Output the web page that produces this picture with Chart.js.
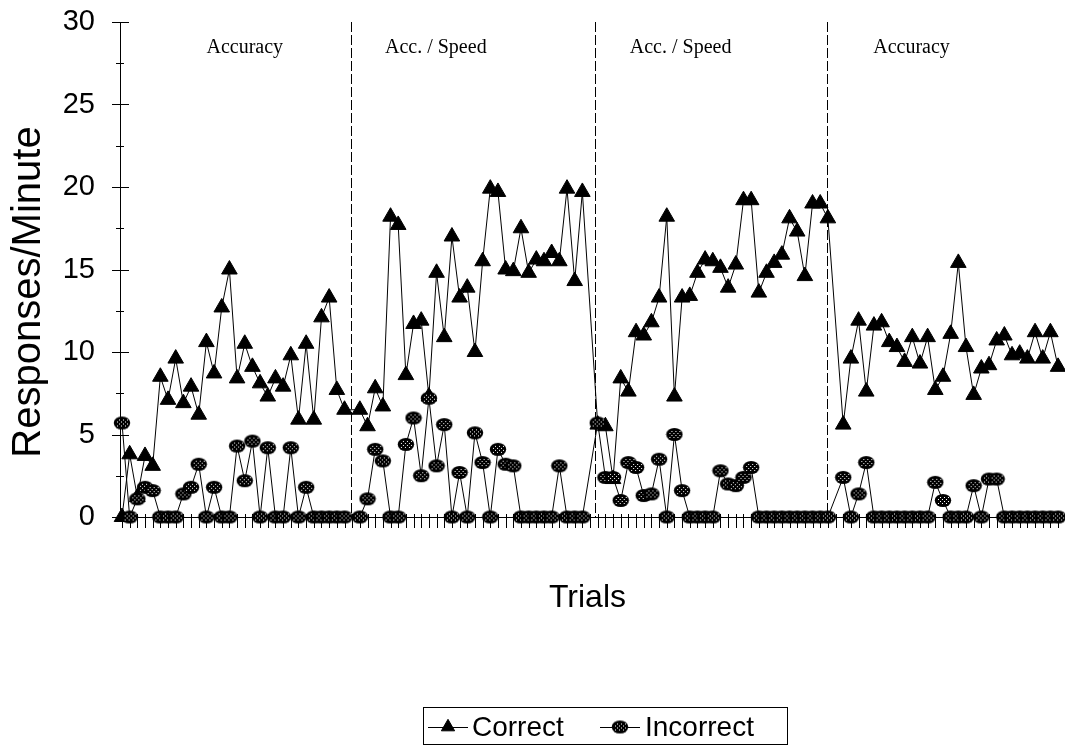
<!DOCTYPE html>
<html>
<head>
<meta charset="utf-8">
<script src="https://cdn.jsdelivr.net/npm/chart.js@4.4.1/dist/chart.umd.min.js"></script>
<style>
  html, body { margin: 0; padding: 0; background: #fff; }
  canvas { display: block; }
</style>
</head>
<body>
<canvas id="chart" width="1065" height="745"></canvas>
<script>
// responses per minute, one array per phase
const phaseNames = ['Accuracy', 'Acc. / Speed', 'Acc. / Speed', 'Accuracy'];
const phaseStarts = [0, 31, 62, 94];      // trial slot where each phase begins
const phaseBreaks = [29.8, 61.7, 91.9];   // where the phase change lines sit

const correct1 = [0, 3.8, 1.2, 3.7, 3.1, 8.5, 7.1, 9.6, 6.9, 7.9, 6.2, 10.6, 8.7, 12.7, 15.0, 8.4, 10.5, 9.1, 8.1, 7.3, 8.4, 7.9, 9.8, 5.9, 10.5, 5.9, 12.1, 13.3, 7.7, 6.5];
const incorrect1 = [5.7, 0, 1.1, 1.8, 1.6, 0, 0, 0, 1.4, 1.8, 3.2, 0, 1.8, 0, 0, 4.3, 2.2, 4.6, 0, 4.2, 0, 0, 4.2, 0, 1.8, 0, 0, 0, 0, 0];

const correct2 = [6.5, 5.5, 7.8, 6.7, 18.2, 17.7, 8.6, 11.7, 11.9, 7.3, 14.8, 10.9, 17.0, 13.3, 13.9, 10.0, 15.5, 19.9, 19.7, 15.0, 14.9, 17.5, 14.8, 15.6, 15.5, 16.0, 15.5, 19.9, 14.3, 19.7];
const incorrect2 = [0, 1.1, 4.1, 3.4, 0, 0, 4.4, 6.0, 2.5, 7.2, 3.1, 5.6, 0, 2.7, 0, 5.1, 3.3, 0, 4.1, 3.2, 3.1, 0, 0, 0, 0, 0, 3.1, 0, 0, 0];

const correct3 = [5.6, 5.5, 2.3, 8.4, 7.6, 11.2, 11.0, 11.8, 13.3, 18.2, 7.3, 13.3, 13.4, 14.8, 15.6, 15.5, 15.1, 13.9, 15.3, 19.2, 19.2, 13.6, 14.8, 15.4, 15.9, 18.1, 17.3, 14.6, 19.0, 19.0, 18.1];
const incorrect3 = [5.7, 2.4, 2.4, 1.0, 3.3, 3.0, 1.3, 1.4, 3.5, 0, 5.0, 1.6, 0, 0, 0, 0, 2.8, 2.0, 1.9, 2.4, 3.0, 0, 0, 0, 0, 0, 0, 0, 0, 0, 0];

const correct4 = [5.6, 9.6, 11.9, 7.6, 11.6, 11.8, 10.6, 10.3, 9.4, 10.9, 9.3, 10.9, 7.7, 8.5, 11.1, 15.4, 10.3, 7.4, 9.0, 9.2, 10.7, 11.0, 9.8, 9.9, 9.6, 11.2, 9.6, 11.2, 9.1];
const incorrect4 = [2.4, 0, 1.4, 3.3, 0, 0, 0, 0, 0, 0, 0, 0, 2.1, 1.0, 0, 0, 0, 1.9, 0, 2.3, 2.3, 0, 0, 0, 0, 0, 0, 0, 0];

const yTicks = [0, 5, 10, 15, 20, 25, 30];

function toPoints(phases) {
  const out = [];
  phases.forEach((vals, p) => vals.forEach((v, j) => out.push({ x: phaseStarts[p] + j, y: v })));
  return out;
}

// crosshatched ellipse marker for the incorrect series
function hatchMarker() {
  const c = document.createElement('canvas');
  c.width = 18; c.height = 15;
  const g = c.getContext('2d');
  g.beginPath();
  g.ellipse(9, 7.5, 8.2, 6.6, 0, 0, Math.PI * 2);
  g.fillStyle = '#000';
  g.fill();
  g.save();
  g.clip();
  g.fillStyle = '#fff';
  for (let y = 3; y < 12; y++) {
    for (let x = 3; x < 15; x++) {
      const a = (x + y) % 4, b = (x - y + 40) % 4;
      if (a === 2 && (b === 1 || b === 2)) g.fillRect(x, y, 1, 1);
      if (b === 2 && a === 1) g.fillRect(x, y, 1, 1);
    }
  }
  g.restore();
  return c;
}
const marker = hatchMarker();

const SANS = "'Liberation Sans', Arial, sans-serif";
const SERIF = "'Liberation Serif', 'Times New Roman', serif";

const decor = {
  id: 'decor',
  beforeDatasetsDraw(chart) {
    const { ctx, chartArea: a, scales: { x, y } } = chart;
    ctx.save();
    ctx.strokeStyle = '#000';
    ctx.lineWidth = 1;
    // phase change lines
    ctx.setLineDash([10, 3]);
    phaseBreaks.forEach(v => {
      const px = Math.round(x.getPixelForValue(v)) + 0.5;
      ctx.beginPath();
      ctx.moveTo(px, a.top);
      ctx.lineTo(px, a.bottom);
      ctx.stroke();
    });
    ctx.setLineDash([]);
    // y ticks crossing the axis, minor every 2.5
    for (let v = 0; v <= 30; v += 2.5) {
      const py = Math.round(y.getPixelForValue(v)) + 0.5;
      const major = v % 5 === 0;
      ctx.beginPath();
      ctx.moveTo(a.left - (major ? 8 : 4), py);
      ctx.lineTo(a.left + (major ? 9 : 4), py);
      ctx.stroke();
    }
    // x ticks, one per trial slot
    for (let i = 0; i <= 122; i++) {
      const px = Math.round(x.getPixelForValue(i)) + 0.5;
      ctx.beginPath();
      ctx.moveTo(px, a.bottom - 3);
      ctx.lineTo(px, a.bottom + 11);
      ctx.stroke();
    }
    // phase names
    ctx.fillStyle = '#000';
    ctx.font = '20px ' + SERIF;
    ctx.textBaseline = 'middle';
    ctx.textAlign = 'center';
    const labelAt = [16.0, 40.9, 72.8, 102.9];
    phaseNames.forEach((name, p) => {
      ctx.fillText(name, x.getPixelForValue(labelAt[p]), 48);
    });
    // y axis title
    ctx.font = '40px ' + SANS;
    ctx.translate(29, 292);
    ctx.rotate(-Math.PI / 2);
    ctx.fillText('Responses/Minute', 0, 0);
    ctx.restore();
  },
  afterDraw(chart) {
    const { ctx } = chart;
    const ds = chart.data.datasets;
    ctx.save();
    ctx.strokeStyle = '#000';
    ctx.fillStyle = '#000';
    ctx.lineWidth = 1;
    ctx.strokeRect(423.5, 707.5, 364, 37);
    ctx.font = '28px ' + SANS;
    ctx.textBaseline = 'middle';
    ctx.textAlign = 'left';
    const items = [
      { d: ds[0], x0: 428, x1: 468, tx: 472 },
      { d: ds[1], x0: 600, x1: 640, tx: 645 }
    ];
    const ly = 727;
    items.forEach(it => {
      ctx.beginPath();
      ctx.moveTo(it.x0, ly + 0.5);
      ctx.lineTo(it.x1, ly + 0.5);
      ctx.stroke();
      Chart.helpers.drawPoint(ctx, {
        pointStyle: it.d.pointStyle,
        radius: it.d.pointRadius * 0.85,
        rotation: 0,
        borderWidth: 1
      }, (it.x0 + it.x1) / 2, ly);
      ctx.fillStyle = '#000';
      ctx.fillText(it.d.label, it.tx, ly + 1);
    });
    ctx.restore();
  }
};

new Chart(document.getElementById('chart'), {
  type: 'line',
  data: {
    datasets: [
      {
        label: 'Correct',
        data: toPoints([correct1, correct2, correct3, correct4]),
        borderColor: '#000',
        borderWidth: 1,
        pointStyle: 'triangle',
        pointRadius: 9,
        pointBackgroundColor: '#000',
        pointBorderColor: '#000',
        pointBorderWidth: 1,
        tension: 0,
        clip: false,
        order: 1
      },
      {
        label: 'Incorrect',
        data: toPoints([incorrect1, incorrect2, incorrect3, incorrect4]),
        borderColor: '#000',
        borderWidth: 1,
        pointStyle: marker,
        pointRadius: 8,
        tension: 0,
        clip: false,
        order: 0
      }
    ]
  },
  options: {
    responsive: false,
    animation: false,
    devicePixelRatio: 1,
    layout: { padding: { top: 22, right: 2, bottom: 0, left: 0 } },
    plugins: { legend: { display: false }, tooltip: { enabled: false } },
    scales: {
      x: {
        type: 'linear',
        min: -0.26,
        max: 121.6,
        grid: { display: false },
        border: { display: true, color: '#000', width: 1 },
        ticks: { display: false },
        title: {
          display: true,
          text: 'Trials',
          color: '#000',
          font: { family: SANS, size: 32 },
          padding: { top: 0, bottom: 128 }
        },
        afterFit(scale) {
          scale.height = 228;
          scale.paddingLeft = 0;
          scale.paddingRight = 0;
        }
      },
      y: {
        min: 0,
        max: 30,
        afterBuildTicks(scale) { scale.ticks = yTicks.map(v => ({ value: v })); },
        grid: { display: false },
        border: { display: true, color: '#000', width: 1 },
        ticks: {
          color: '#000',
          padding: 17,
          font: { family: SANS, size: 29 }
        },
        afterFit(scale) {
          scale.width = 120;
          scale.paddingTop = 0;
          scale.paddingBottom = 0;
        }
      }
    }
  },
  plugins: [decor]
});
</script>
</body>
</html>
